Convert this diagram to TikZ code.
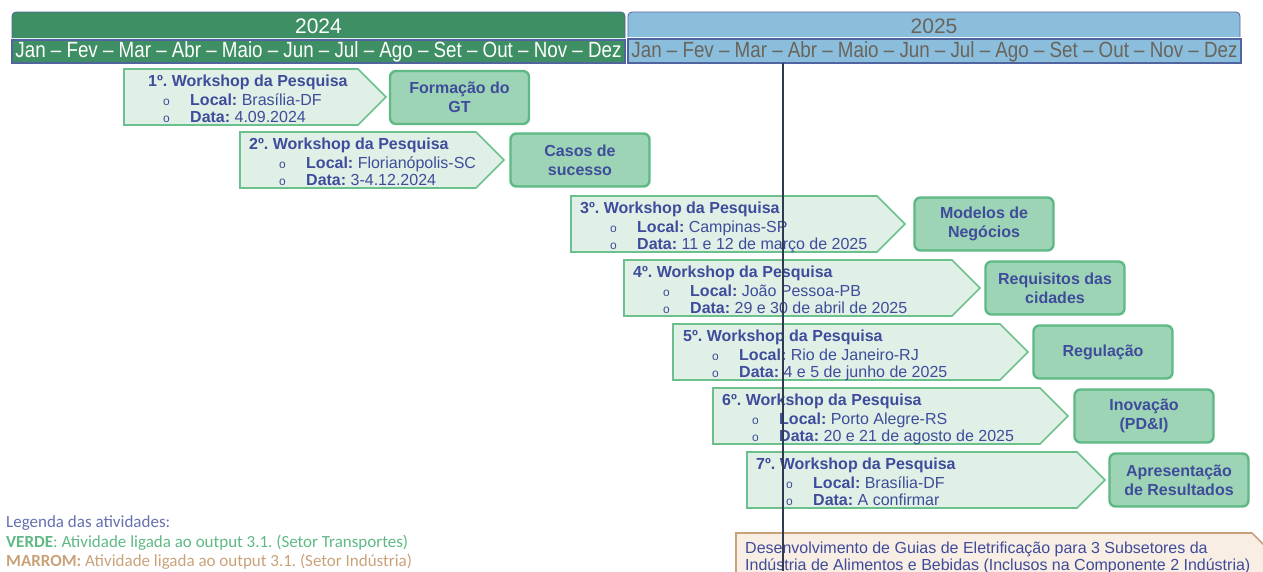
\documentclass[tikz,border=0pt]{standalone}
\usepackage{fontspec}
\setmainfont{Liberation Sans}
\newfontfamily\legfont{Carlito}
\usetikzlibrary{positioning}
\frenchspacing

\definecolor{yeargreen}{RGB}{62,143,99}
\definecolor{yearblue}{RGB}{139,190,220}
\definecolor{barline}{RGB}{80,100,160}
\definecolor{inkblue}{RGB}{63,76,155}
\definecolor{greyink}{RGB}{105,100,92}
\definecolor{wsfill}{RGB}{224,240,230}
\definecolor{wsline}{RGB}{108,192,142}
\definecolor{resfill}{RGB}{157,212,181}
\definecolor{resline}{RGB}{94,185,132}
\definecolor{brownline}{RGB}{201,162,122}
\definecolor{brownfill}{RGB}{248,238,228}
\definecolor{nowline}{RGB}{46,59,78}

\tikzset{
  wsarrow/.style={draw=wsline,fill=wsfill,line width=1.6pt},
  wstitle/.style={anchor=base west,inner sep=0pt,text=inkblue,font=\bfseries\fontsize{16}{18}\selectfont},
  wsitem/.style={anchor=base west,inner sep=0pt,text=inkblue,font=\fontsize{16}{18}\selectfont},
  wsdot/.style={anchor=base west,inner sep=0pt,text=inkblue,font=\fontsize{12}{13}\selectfont},
  resbox/.style={draw=resline,fill=resfill,line width=2.4pt,rounded corners=6pt,align=center,
    minimum width=139pt,minimum height=53pt,inner sep=0pt,text=inkblue,font=\bfseries\fontsize{16}{19}\selectfont},
  monthbar/.style={draw=barline,line width=1.2pt},
  legtext/.style={anchor=base west,inner sep=0pt,font=\legfont\fontsize{17}{18}\selectfont},
}

% name, left x, top y, tip x, title offset, number, local, data
\newcommand{\wshop}[8]{%
  \draw[wsarrow] (#2,#3) -- (#4-28,#3) -- (#4,#3+28) -- (#4-28,#3+56) -- (#2,#3+56) -- cycle;
  \node[wstitle] (#1t) at (#2+#5,#3+17) {#6º. Workshop da Pesquisa};
  \node[wsdot] (#1o1) at (#2+39,#3+36) {o};
  \node[wsitem] (#1l) at (#2+66,#3+36) {\textbf{Local:} #7};
  \node[wsdot] (#1o2) at (#2+39,#3+53) {o};
  \node[wsitem] (#1d) at (#2+66,#3+53) {\textbf{Data:} #8};
}

\newcommand{\months}{Jan -- Fev -- Mar -- Abr -- Maio -- Jun -- Jul -- Ago -- Set -- Out -- Nov -- Dez}

\begin{document}
\begin{tikzpicture}[x=1pt,y=-1pt]
  \useasboundingbox (0,0) rectangle (1263,571);
  \clip (0,0) rectangle (1263,571);

  % years
  \draw[fill=yeargreen,draw=barline,line width=0.8pt,rounded corners=4pt] (12,38) -- (12,12) -- (625,12) -- (625,38);
  \node[text=white,font=\fontsize{21}{22}\selectfont] (y24) at (318.5,26) {2024};
  \draw[fill=yearblue,draw=barline,line width=0.8pt,rounded corners=4pt] (628,37) -- (628,12) -- (1240,12) -- (1240,37);
  \node[text=greyink,font=\fontsize{21}{22}\selectfont] (y25) at (934,26) {2025};

  % months
  \draw[monthbar,fill=yeargreen] (12,40) rectangle (625,63);
  \node[text=white,font=\fontsize{22}{23}\selectfont,inner sep=0pt] (m24) at (318.5,51.5) {\resizebox{606pt}{\height}{\months}};
  \draw[monthbar,fill=yearblue] (628,39) rectangle (1241,63);
  \node[text=greyink,font=\fontsize{22}{23}\selectfont,inner sep=0pt] (m25) at (934.5,51.5) {\resizebox{606pt}{\height}{\months}};

  % workshops
  \wshop{w1}{124}{69}{386}{24}{1}{Brasília-DF}{4.09.2024}
  \wshop{w2}{240}{132}{504}{9}{2}{Florianópolis-SC}{3-4.12.2024}
  \wshop{w3}{571}{196}{905}{9}{3}{Campinas-SP}{11 e 12 de março de 2025}
  \wshop{w4}{624}{260}{980}{9}{4}{João Pessoa-PB}{29 e 30 de abril de 2025}
  \wshop{w5}{673}{324}{1028}{10}{5}{Rio de Janeiro-RJ}{4 e 5 de junho de 2025}
  \wshop{w6}{713}{388}{1068}{9}{6}{Porto Alegre-RS}{20 e 21 de agosto de 2025}
  \wshop{w7}{747}{452}{1105}{9}{7}{Brasília-DF}{A confirmar}

  % results
  \node[resbox] (r1) at (459.5,97.5) {Formação do\\GT};
  \node[resbox] (r2) at (580,160) {Casos de\\sucesso};
  \node[resbox] (r3) at (984,224) {Modelos de\\Negócios};
  \node[resbox] (r4) at (1055,288) {Requisitos das\\cidades};
  \node[resbox] (r5) at (1103,352) {Regulação};
  \node[resbox] (r6) at (1144,416) {Inovação\\(PD\&I)};
  \node[resbox] (r7) at (1179,480) {Apresentação\\de Resultados};

  % industry
  \draw[draw=brownline,fill=brownfill,line width=1.6pt] (736,600) -- (736,533) -- (1252,533) -- (1300,581) -- (1300,600);
  \node[wsitem] (ind1) at (745,553) {Desenvolvimento de Guias de Eletrificação para 3 Subsetores da};
  \node[wsitem] (ind2) at (745,570) {Indústria de Alimentos e Bebidas (Inclusos na Componente 2 Indústria)};

  % legend
  \node[legtext,text=inkblue!80] (leg) at (6,527) {Legenda das atividades:};
  \node[legtext,text=resline] (legv) at (6,547) {\textbf{VERDE}: Atividade ligada ao output 3.1. (Setor Transportes)};
  \node[legtext,text=brownline] (legm) at (6,566) {\textbf{MARROM:} Atividade ligada ao output 3.1. (Setor Indústria)};

  % today
  \draw[nowline,line width=1.5pt] (783,63) -- (783,571);
\end{tikzpicture}
\end{document}
